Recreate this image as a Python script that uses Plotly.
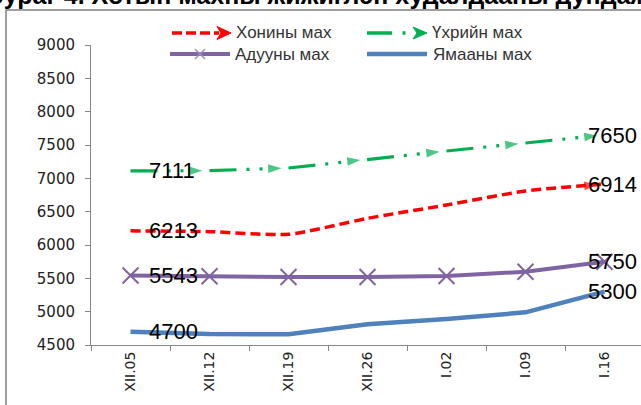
import plotly.graph_objects as go

categories = ["XII.05", "XII.12", "XII.19", "XII.26", "I.02", "I.09", "I.16"]
khonin = [6213, 6200, 6160, 6400, 6600, 6810, 6914]
ukhriin = [7111, 7115, 7155, 7285, 7410, 7530, 7650]
aduun = [5543, 5530, 5520, 5520, 5535, 5600, 5750]
yamaa = [4700, 4665, 4660, 4810, 4890, 4990, 5300]
series_names = ["Хонины мах", "Үхрийн мах", "Адууны мах", "Ямааны мах"]
y_ticks = [4500, 5000, 5500, 6000, 6500, 7000, 7500, 8000, 8500, 9000]

RED, GREEN, PURPLE, BLUE = "#FF0000", "#00B050", "#8064A2", "#4F81BD"
W, H = 641, 405
ML, MT, MB = 91, 45, 60
PW, PH = W - ML, H - MT - MB


def px(x):
    return (x - ML) / PW


def py(y):
    return (MT + PH - y) / PH


n = len(categories)
fig = go.Figure()
fig.add_trace(go.Scatter(
    x=categories, y=khonin, mode="lines+markers", name=series_names[0],
    line=dict(color=RED, width=3.5, dash="10px,5px", shape="spline", smoothing=0.6),
    marker=dict(symbol="arrow", angleref="previous", size=[0] * (n - 1) + [14],
                standoff=7, color=RED, line=dict(width=0)),
    showlegend=False))
fig.add_trace(go.Scatter(
    x=categories, y=ukhriin, mode="lines+markers", name=series_names[1],
    line=dict(color=GREEN, width=3.2, dash="27px,10px,3px,10px,3px,26px"),
    marker=dict(symbol="arrow", angleref="previous", size=[0] + [14] * (n - 1),
                standoff=7, color=GREEN, line=dict(width=0)),
    showlegend=False))
fig.add_trace(go.Scatter(
    x=categories, y=aduun, mode="lines+markers", name=series_names[2],
    line=dict(color=PURPLE, width=4),
    marker=dict(symbol="x-thin-open", size=16, color=PURPLE,
                line=dict(width=2, color=PURPLE)),
    showlegend=False))
fig.add_trace(go.Scatter(
    x=categories, y=yamaa, mode="lines", name=series_names[3],
    line=dict(color=BLUE, width=4.5),
    showlegend=False))

annotations = []
lab_font = dict(family="Liberation Sans, Arial", size=22, color="#000000")
for s in (khonin, ukhriin, aduun, yamaa):
    annotations.append(dict(x=categories[0], y=s[0], xref="x", yref="y", text=str(s[0]),
                            showarrow=False, xanchor="left", yanchor="middle",
                            xshift=16, font=lab_font))
    annotations.append(dict(x=categories[-1], y=s[-1], xref="x", yref="y", text=str(s[-1]),
                            showarrow=False, xanchor="left", yanchor="middle",
                            xshift=-19, font=lab_font))

# custom legend
leg_font = dict(family="Liberation Sans, Arial", size=17, color="#333333")
shapes = []


def seg(x0, y0, x1, y1, color, width, dash="solid"):
    shapes.append(dict(type="line", xref="paper", yref="paper",
                       x0=px(x0), y0=py(y0), x1=px(x1), y1=py(y1),
                       line=dict(color=color, width=width, dash=dash)))


def arrowhead(tipx, tipy, length, half, color):
    pts = [(tipx, tipy), (tipx - length, tipy - half), (tipx - length + 4, tipy),
           (tipx - length, tipy + half)]
    path = "M " + " L ".join(f"{px(a):.5f},{py(b):.5f}" for a, b in pts) + " Z"
    shapes.append(dict(type="path", xref="paper", yref="paper", path=path,
                       fillcolor=color, line=dict(color=color, width=1)))


r1, r2 = 33, 54
seg(172, r1, 219, r1, RED, 3.5, "10px,4px")
arrowhead(231, r1, 14, 6.5, RED)
seg(367, r1, 392, r1, GREEN, 3.5)
seg(402.5, r1, 405.5, r1, GREEN, 3.5)
arrowhead(427, r1, 14, 6, GREEN)
seg(170, r2, 230, r2, PURPLE, 4)
seg(195, r2 - 5, 205, r2 + 5, "#9C8AC0", 1.5)
seg(195, r2 + 5, 205, r2 - 5, "#9C8AC0", 1.5)
seg(367, r2, 427, r2, BLUE, 4.5)
for name, (lx, ly) in zip(series_names, [(234, r1), (430, r1), (233, r2), (431, r2)]):
    annotations.append(dict(x=px(lx), y=py(ly), xref="paper", yref="paper", text=name,
                            showarrow=False, xanchor="left", yanchor="middle", font=leg_font))

# frame around chart
shapes.append(dict(type="rect", xref="paper", yref="paper",
                   x0=px(6), y0=py(H + 50), x1=px(W + 50), y1=py(10),
                   line=dict(color="#7F7F7F", width=1.5), layer="above"))

# clipped caption at top (cut off by the page edge, as in the source)
annotations.append(dict(x=px(-14), y=py(11), xref="paper", yref="paper",
                        text="<b>Зураг 4. Хотын махны жижиглэн худалдааны дундаж үнэ</b>",
                        showarrow=False, xanchor="left", yanchor="bottom",
                        font=dict(family="Liberation Sans, Arial", size=25, color="#000000")))

fig.update_layout(
    width=W, height=H,
    margin=dict(l=ML, r=0, t=MT, b=MB, pad=0),
    paper_bgcolor="white", plot_bgcolor="white",
    showlegend=False,
    annotations=annotations, shapes=shapes,
    xaxis=dict(type="category", range=[-0.5, -0.5 + PW / 79.0], tickson="boundaries",
               showline=True, linecolor="#868686", linewidth=1, ticks="outside",
               ticklen=5, tickcolor="#868686", showgrid=False, zeroline=False,
               tickangle=-90, tickfont=dict(family="DejaVu Sans", size=14, color="#222222")),
    yaxis=dict(range=[4500, 9000], tickvals=y_ticks, showline=True, linecolor="#868686",
               linewidth=1, ticks="outside", ticklen=5, tickcolor="#868686",
               showgrid=False, zeroline=False, ticklabelstandoff=7,
               tickfont=dict(family="DejaVu Sans", size=15, color="#222222")),
)

fig.write_html("out.html", config={"displayModeBar": False},
               post_script="document.body.style.margin='0px';")
